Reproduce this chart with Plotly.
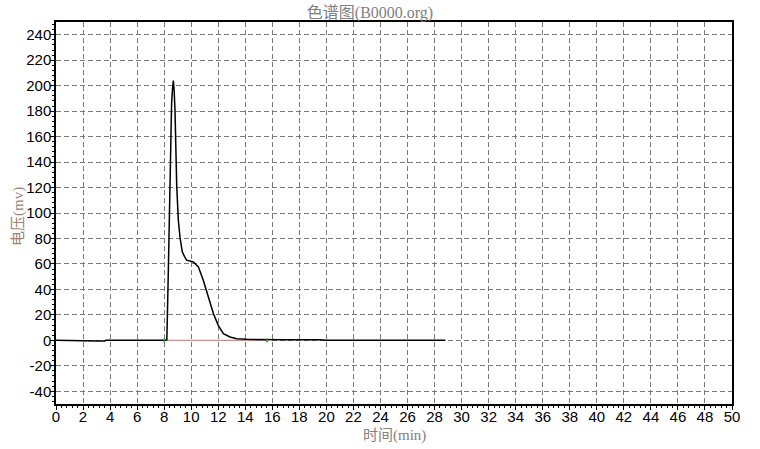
import plotly.graph_objects as go

# Chromatogram data (time in min, voltage in mV)
time_min = [0, 2.9, 3.0, 3.1, 3.3, 3.4, 3.6, 3.7, 8.1, 8.2, 8.31, 8.43, 8.55, 8.62,
            8.68, 8.74, 8.80, 8.93, 9.05, 9.17, 9.34, 9.5, 9.66, 10.16, 10.53, 10.9,
            11.27, 11.64, 12.0, 12.38, 12.87, 13.37, 14.1, 15.0, 17.0, 19.5, 19.8,
            20.0, 28.8]
voltage_mv = [0, 0, -0.5, -0.6, -0.3, -0.6, -0.5, 0, 0, 0.5, 55, 134, 186, 198,
              204, 196, 181, 121, 94, 81, 69.5, 66, 63, 61.6, 57.7, 47,
              34, 21, 11.8, 5.2, 2.6, 1.3, 0.8, 0.6, 0.5, 0.4, 0.2,
              0, 0]

# Integration baseline
baseline_t = [8.0, 15.6]
baseline_v = [0, 0]

x_ticks = list(range(0, 51, 2))
y_ticks = list(range(-40, 241, 20))

fig = go.Figure()
fig.add_trace(go.Scatter(x=baseline_t, y=baseline_v, mode="lines",
                         line=dict(color="#c89090", width=1.2), hoverinfo="skip"))
fig.add_trace(go.Scatter(x=time_min, y=voltage_mv, mode="lines",
                         line=dict(color="black", width=1.5)))
fig.add_trace(go.Scatter(x=baseline_t, y=baseline_v, mode="markers",
                         marker=dict(color="#3a9a3a", size=3, symbol="line-ns",
                                     line=dict(color="#3a9a3a", width=1.5))))

axis_common = dict(
    showline=True, linecolor="black", linewidth=1.5, mirror=True,
    showgrid=True, gridcolor="#7a7a7a", gridwidth=1, griddash="5px,3px",
    zeroline=False, ticks="outside", ticklen=4, tickcolor="black", tickwidth=1,
    tickfont=dict(family="Liberation Sans, Arial, sans-serif", size=15, color="black"),
)

fig.update_xaxes(range=[0, 50], tickvals=x_ticks, ticktext=[str(v) for v in x_ticks],
                 ticklabelstandoff=-6,
                 minor=dict(ticks="outside", ticklen=2, dtick=0.4, tickcolor="black",
                            showgrid=False),
                 **axis_common)
fig.update_yaxes(range=[-50, 250], tickvals=y_ticks, ticktext=[str(v) for v in y_ticks],
                 ticklabelstandoff=-4,
                 minor=dict(ticks="outside", ticklen=2, dtick=4, tickcolor="black",
                            showgrid=False),
                 **axis_common)

cjk = "Liberation Serif, Noto Sans CJK SC, serif"
fig.update_layout(
    width=760, height=449,
    margin=dict(l=56, r=28, t=22, b=45),
    paper_bgcolor="white", plot_bgcolor="white",
    showlegend=False,
    title=dict(text="色谱图(B0000.org)", x=370 / 760, xanchor="center",
               y=1 - 12.5 / 449, yanchor="middle",
               font=dict(family=cjk, size=16, color="#808080")),
    annotations=[
        dict(text="时间(min)", xref="paper", yref="paper",
             x=(395 - 56) / 676, y=-(435 - 404) / 382, xanchor="center", yanchor="middle",
             showarrow=False, font=dict(family=cjk, size=15, color="#8a8078")),
        dict(text="电压(mv)", xref="paper", yref="paper",
             x=-(56 - 18) / 676, y=(404 - 217) / 382, xanchor="center", yanchor="middle",
             textangle=-90, showarrow=False,
             font=dict(family=cjk, size=15, color="#9a8478")),
    ],
)

fig.write_html("out.html", config={"displayModeBar": False},
               post_script="document.body.style.margin='0';document.body.style.overflow='hidden';")
